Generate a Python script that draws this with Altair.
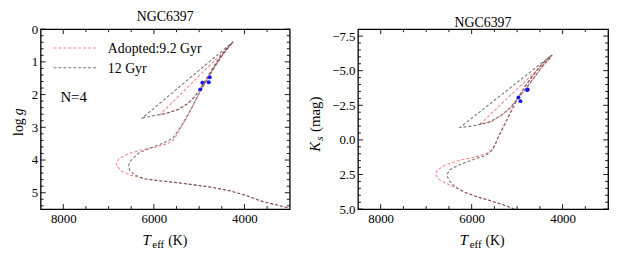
import altair as alt
import pandas as pd

# ---------------- data ----------------
# Left panel: log g vs Teff
L_RED_TEFF = [3050, 3300, 3600, 4000, 4300, 4700, 5100, 5500, 5900, 6200, 6500, 6700, 6810, 6830, 6780,
              6600, 6300, 5950, 5700, 5560, 5480, 5380, 5280, 5180, 5070, 4960, 4830, 4680, 4520, 4380,
              4250, 5870, 5700, 5450, 5250, 5100, 4980, 4860, 4730, 4580, 4420, 4280]
L_RED_LOGG = [5.46, 5.37, 5.27, 5.07, 4.95, 4.84, 4.76, 4.69, 4.63, 4.57, 4.47, 4.35, 4.2, 4.1, 3.97,
              3.83, 3.7, 3.6, 3.5, 3.38, 3.2, 2.95, 2.72, 2.45, 2.15, 1.85, 1.55, 1.2, 0.85, 0.6,
              0.4, 2.62, 2.57, 2.45, 2.28, 2.08, 1.85, 1.58, 1.28, 0.95, 0.65, 0.43]
L_GRAY_TEFF = [3050, 3300, 3600, 4000, 4300, 4700, 5100, 5500, 5900, 6200, 6420, 6530, 6560, 6510, 6330,
               6050, 5780, 5580, 5470, 5380, 5285, 5180, 5070, 4955, 4825, 4675, 4515, 4375, 4245,
               6250, 6120, 5950, 5720, 5460, 5260, 5110, 4990, 4870, 4740, 4590, 4430, 4290]
L_GRAY_LOGG = [5.46, 5.37, 5.27, 5.07, 4.95, 4.84, 4.76, 4.69, 4.63, 4.58, 4.46, 4.32, 4.17, 4.02, 3.78,
               3.62, 3.48, 3.33, 3.12, 2.92, 2.7, 2.45, 2.15, 1.85, 1.55, 1.2, 0.85, 0.6, 0.38,
               2.71, 2.68, 2.63, 2.57, 2.45, 2.28, 2.08, 1.85, 1.58, 1.28, 0.95, 0.65, 0.43]
L_STAR_TEFF = [4766, 4788, 4930, 4974]
L_STAR_LOGG = [1.47, 1.62, 1.64, 1.84]

# Right panel: Ks vs Teff
R_RED_TEFF = [5060, 5300, 5600, 5854, 6100, 6289, 6550, 6724, 6797, 6760, 6600, 6435, 6200, 6000, 5800,
              5637, 5528, 5470, 5420, 5310, 5202, 5090, 4985, 4840, 4696, 4550, 4406, 4224,
              5820, 5565, 5350, 5150, 4975, 4800, 4620, 4420, 4260]
R_RED_KS = [5.0, 4.7, 4.38, 4.14, 3.85, 3.55, 3.15, 2.84, 2.5, 2.2, 1.85, 1.64, 1.42, 1.29, 1.12,
            0.93, 0.57, 0.25, -0.14, -0.85, -1.57, -2.3, -3.0, -3.75, -4.43, -5.05, -5.62, -6.1,
            -1.12, -1.33, -1.75, -2.3, -3.0, -3.71, -4.5, -5.38, -5.95]
R_GRAY_TEFF = [5060, 5300, 5600, 5854, 6150, 6380, 6507, 6543, 6480, 6300, 6145, 5900, 5710, 5560, 5490,
               5430, 5320, 5210, 5100, 4995, 4850, 4706, 4560, 4415, 4230,
               6254, 6100, 5900, 5600, 5360, 5160, 4985, 4810, 4630, 4430, 4270]
R_GRAY_KS = [5.0, 4.7, 4.38, 4.14, 3.8, 3.35, 2.9, 2.5, 2.15, 1.85, 1.64, 1.35, 1.16, 0.8, 0.4,
             -0.1, -0.85, -1.57, -2.3, -3.0, -3.75, -4.43, -5.05, -5.62, -6.15,
             -0.9, -0.95, -1.05, -1.3, -1.75, -2.3, -3.0, -3.71, -4.5, -5.38, -5.95]
R_STAR_TEFF = [4767, 4780, 4971, 4928]
R_STAR_KS = [-3.64, -3.6, -3.07, -2.8]

TITLE = "NGC6397"
SERIES = ["Adopted:9.2 Gyr", "12 Gyr"]
N_LABEL = "N=4"

X_MAJOR = [8000, 6000, 4000]
X_MINOR = [7500, 7000, 6500, 5500, 5000, 4500, 3500]
L_Y_MAJOR = [0, 1, 2, 3, 4, 5]
R_Y_MAJOR = [-7.5, -5.0, -2.5, 0.0, 2.5, 5.0]

# ---------------- style ----------------
FONT = "Liberation Serif, DejaVu Serif, serif"
RED = "#f03a3a"
GRAY = "#333333"
DASH = [3, 2]
W_L, W_R, H = 252, 253, 182


def panel(red_t, red_y, gray_t, gray_y, star_t, star_y, ydomain, ymajor, yminor,
          yfmt, width, yextent, ylabel_layers, with_legend):
    X = alt.X("teff:Q", scale=alt.Scale(domain=[3000, 8500], reverse=True, nice=False, zero=False),
              axis=alt.Axis(values=X_MAJOR, format="d", title=None, labelFlush=False,
                            labelPadding=4, minExtent=20, maxExtent=20))
    Y = alt.Y("y:Q", scale=alt.Scale(domain=ydomain, reverse=True, nice=False, zero=False),
              axis=alt.Axis(values=ymajor, format=yfmt, title=None, labelFlush=False,
                            labelPadding=3, minExtent=yextent, maxExtent=yextent))

    red = pd.DataFrame({"teff": red_t, "y": red_y, "i": range(len(red_t))})
    gray = pd.DataFrame({"teff": gray_t, "y": gray_y, "i": range(len(gray_t))})
    stars = pd.DataFrame({"teff": star_t, "y": star_y})

    l_red = alt.Chart(red).mark_line(color=RED, opacity=0.6, strokeDash=DASH, strokeWidth=1.1,
                                     clip=True).encode(x=X, y=Y, order="i:Q")
    l_gray = alt.Chart(gray).mark_line(color=GRAY, opacity=0.65, strokeDash=DASH, strokeWidth=1.1,
                                       clip=True).encode(x=X, y=Y, order="i:Q")
    pts = alt.Chart(stars).mark_circle(color="#1414ff", size=16, opacity=1).encode(x=X, y=Y)

    # inward ticks on all four sides
    xmaj = pd.DataFrame({"teff": X_MAJOR})
    xmin = pd.DataFrame({"teff": X_MINOR})
    ymaj = pd.DataFrame({"y": ymajor})
    ymin = pd.DataFrame({"y": yminor})
    tk = dict(color="black", strokeWidth=0.9)
    ticks = [
        alt.Chart(xmaj).mark_rule(**tk).encode(x=X, y=alt.value(H), y2=alt.value(H - 5)),
        alt.Chart(xmaj).mark_rule(**tk).encode(x=X, y=alt.value(0), y2=alt.value(5)),
        alt.Chart(xmin).mark_rule(**tk).encode(x=X, y=alt.value(H), y2=alt.value(H - 3)),
        alt.Chart(xmin).mark_rule(**tk).encode(x=X, y=alt.value(0), y2=alt.value(3)),
        alt.Chart(ymaj).mark_rule(**tk).encode(y=Y, x=alt.value(0), x2=alt.value(5)),
        alt.Chart(ymaj).mark_rule(**tk).encode(y=Y, x=alt.value(width), x2=alt.value(width - 5)),
        alt.Chart(ymin).mark_rule(**tk).encode(y=Y, x=alt.value(0), x2=alt.value(3)),
        alt.Chart(ymin).mark_rule(**tk).encode(y=Y, x=alt.value(width), x2=alt.value(width - 3)),
    ]

    one = pd.DataFrame({"k": [0]})

    def txt(s, x, y, size, style="normal", angle=0, align="left", baseline="alphabetic"):
        return alt.Chart(one).mark_text(font=FONT, fontSize=size, fontStyle=style, angle=angle,
                                        align=align, baseline=baseline, color="black").encode(
            x=alt.value(x), y=alt.value(y), text=alt.value(s))

    # x-axis title: T_eff (K)
    labels = [
        txt("T", 103, 218, 15, "italic"),
        txt("eff", 113, 221, 11),
        txt("(K)", 129, 218, 14),
    ]
    labels += ylabel_layers(txt)

    extra = []
    if with_legend:
        extra = [
            alt.Chart(one).mark_rule(color=RED, opacity=0.6, strokeDash=DASH, strokeWidth=1.1).encode(
                x=alt.value(13), x2=alt.value(57), y=alt.value(19)),
            alt.Chart(one).mark_rule(color=GRAY, opacity=0.65, strokeDash=DASH, strokeWidth=1.1).encode(
                x=alt.value(13), x2=alt.value(57), y=alt.value(39)),
            txt(SERIES[0], 68, 24, 14),
            txt(SERIES[1], 68, 44, 14),
            txt(N_LABEL, 20, 74, 15),
        ]

    return alt.layer(l_red, l_gray, *ticks, pts, *labels, *extra).properties(
        width=width, height=H,
        title=alt.TitleParams(TITLE, font=FONT, fontSize=14, fontWeight="normal", color="black",
                              offset=-1, frame="group", anchor="middle"))


def left_ylabel(txt):
    return [
        txt("log", -18, 108, 14, angle=270),
        txt("g", -18, 87, 14, "italic", angle=270),
    ]


def right_ylabel(txt):
    return [
        txt("K", -38, 124, 15, "italic", angle=270),
        txt("s", -35, 113, 11, "italic", angle=270),
        txt("(mag)", -38, 104, 15, angle=270),
    ]


L_Y_MINOR = [round(v * 0.2, 1) for v in range(0, 28) if v % 5 != 0]
R_Y_MINOR = [v * 0.5 for v in range(-15, 10) if (v * 0.5) not in R_Y_MAJOR]

left = panel(L_RED_TEFF, L_RED_LOGG, L_GRAY_TEFF, L_GRAY_LOGG, L_STAR_TEFF, L_STAR_LOGG,
             [0, 5.5], L_Y_MAJOR, L_Y_MINOR, "d", W_L, 32, left_ylabel, True)
right = panel(R_RED_TEFF, R_RED_KS, R_GRAY_TEFF, R_GRAY_KS, R_STAR_TEFF, R_STAR_KS,
              [-8, 5], R_Y_MAJOR, R_Y_MINOR, ".1f", W_R, 47, right_ylabel, False)

chart = alt.hconcat(left, right, spacing=16).properties(
    padding={"left": 0, "top": 0, "right": 5, "bottom": 0}
).configure_view(stroke="black", strokeWidth=1.3).configure_axis(
    labelFont=FONT, labelFontSize=13, labelColor="black", ticks=False, domain=False, grid=False
)

chart.save("out.html", embed_options={"renderer": "svg", "actions": False})
